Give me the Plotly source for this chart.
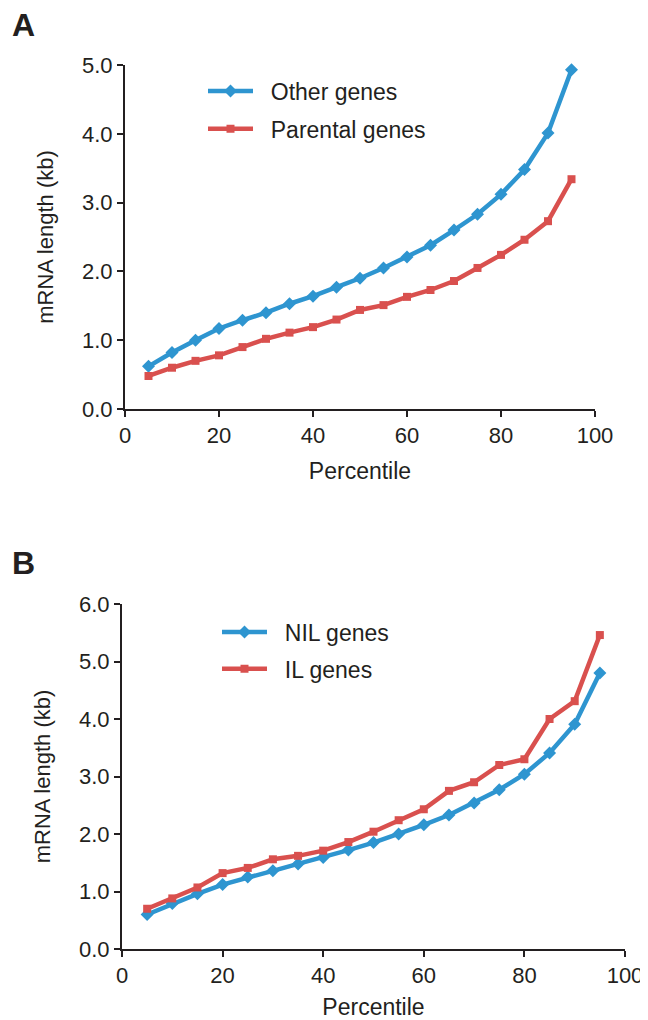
import plotly.graph_objects as go

percentile = [5, 10, 15, 20, 25, 30, 35, 40, 45, 50, 55, 60, 65, 70, 75, 80, 85, 90, 95]

# Panel A
other_genes = [0.62, 0.82, 1.00, 1.17, 1.29, 1.40, 1.53, 1.64, 1.77, 1.90, 2.05, 2.21, 2.38, 2.60, 2.83, 3.12, 3.48, 4.01, 4.93]
parental_genes = [0.48, 0.60, 0.70, 0.78, 0.90, 1.02, 1.11, 1.19, 1.30, 1.44, 1.51, 1.63, 1.73, 1.86, 2.05, 2.24, 2.46, 2.73, 3.34]

# Panel B
nil_genes = [0.60, 0.79, 0.96, 1.12, 1.25, 1.36, 1.48, 1.59, 1.72, 1.85, 2.00, 2.16, 2.33, 2.54, 2.77, 3.04, 3.41, 3.91, 4.80]
il_genes = [0.70, 0.88, 1.07, 1.32, 1.41, 1.56, 1.62, 1.71, 1.86, 2.04, 2.24, 2.43, 2.75, 2.90, 3.20, 3.30, 4.00, 4.31, 5.46]

ticks_a = [0, 1, 2, 3, 4, 5]
ticks_b = [0, 1, 2, 3, 4, 5, 6]
xticks = [0, 20, 40, 60, 80, 100]

BLUE = "#2E95D0"
RED = "#D9504E"
INK = "#231F20"
FONT = "Liberation Sans, Arial, sans-serif"

# page has an 8px body margin; figure placed at (8, 8) in the 648x1020 window
W, H = 640, 1012

fig = go.Figure()

def add(x, y, name, color, symbol, xa, ya, legend, grp):
    fig.add_trace(go.Scatter(
        x=x, y=y, name="&nbsp;&nbsp;" + name, mode="lines+markers",
        line=dict(color=color, width=4.5),
        marker=dict(symbol=symbol, size=8 if symbol == "square" else 10, color=color),
        xaxis=xa, yaxis=ya, legend=legend, legendgroup=grp, cliponaxis=False,
    ))

add(percentile, other_genes, "Other genes", BLUE, "diamond", "x", "y", "legend", "a1")
add(percentile, parental_genes, "Parental genes", RED, "square", "x", "y", "legend", "a2")
add(percentile, nil_genes, "NIL genes", BLUE, "diamond", "x2", "y2", "legend2", "b1")
add(percentile, il_genes, "IL genes", RED, "square", "x2", "y2", "legend2", "b2")

def xd(a, b):
    return [a / W, b / W]

def yd(top, bottom):
    return [1 - bottom / H, 1 - top / H]

axis_common = dict(
    showline=True, linecolor=INK, linewidth=2, mirror=False,
    ticks="outside", ticklen=6, tickwidth=2, tickcolor=INK,
    showgrid=False, zeroline=False,
    tickfont=dict(family=FONT, size=22, color=INK),
    ticklabeloverflow="allow",
    automargin=False,
)
title_font = dict(family=FONT, size=23, color=INK)
ytitle_font = dict(family=FONT, size=22, color=INK)

fig.update_layout(
    width=W, height=H,
    margin=dict(l=0, r=0, t=0, b=0),
    paper_bgcolor="white", plot_bgcolor="white",
    showlegend=True,
    xaxis=dict(domain=xd(117, 587), range=[0, 100], tickvals=xticks, anchor="y",
               title=dict(text="Percentile", font=title_font, standoff=15),
               **axis_common),
    yaxis=dict(domain=yd(57, 401), range=[0, 5], tickvals=ticks_a, tickformat=".1f", anchor="x",
               title=dict(text="mRNA length (kb)", font=ytitle_font, standoff=22),
               **axis_common),
    xaxis2=dict(domain=xd(114, 617), range=[0, 100], tickvals=xticks, anchor="y2",
                title=dict(text="Percentile", font=title_font, standoff=15),
                **axis_common),
    yaxis2=dict(domain=yd(596, 941), range=[0, 6], tickvals=ticks_b, tickformat=".1f", anchor="x2",
                title=dict(text="mRNA length (kb)", font=ytitle_font, standoff=22),
                **axis_common),
    legend=dict(x=195 / W, y=1 - 61.5 / H, xanchor="left", yanchor="top",
                font=dict(family=FONT, size=23, color=INK), tracegroupgap=5,
                bgcolor="rgba(0,0,0,0)", itemwidth=45),
    legend2=dict(x=209 / W, y=1 - 602.5 / H, xanchor="left", yanchor="top",
                 font=dict(family=FONT, size=23, color=INK), tracegroupgap=4,
                 bgcolor="rgba(0,0,0,0)", itemwidth=45),
    annotations=[
        dict(text="<b>A</b>", x=2 / W, y=1 - 17 / H, xref="paper", yref="paper",
             xanchor="left", yanchor="middle", showarrow=False,
             font=dict(family=FONT, size=32, color=INK)),
        dict(text="<b>B</b>", x=2 / W, y=1 - 555 / H, xref="paper", yref="paper",
             xanchor="left", yanchor="middle", showarrow=False,
             font=dict(family=FONT, size=32, color=INK)),
    ],
)

fig.write_html("out.html")
